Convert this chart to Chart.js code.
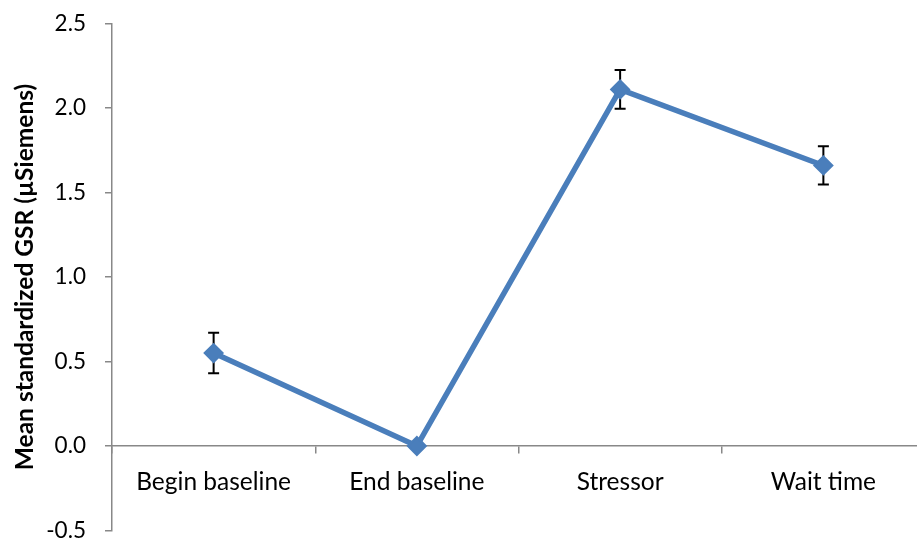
<!DOCTYPE html>
<html>
<head>
<meta charset="utf-8">
<script src="https://cdn.jsdelivr.net/npm/chart.js@4.4.1/dist/chart.umd.min.js"></script>
<style>
  html, body { margin: 0; padding: 0; background: #ffffff; overflow: hidden; }
  #wrap { position: absolute; left: 0; top: -8.8px; width: 936px; height: 572px; }
</style>
</head>
<body>
<div id="wrap"><canvas id="c"></canvas></div>
<script>
const categories = ['Begin baseline', 'End baseline', 'Stressor', 'Wait time'];
const meanGSR = [0.55, 0.0, 2.11, 1.66];
const errorGSR = [0.12, 0.0, 0.115, 0.113];
const yTickMin = -0.5;
const yTickMax = 2.5;
const yTickStep = 0.5;
const yAxisTitle = 'Mean standardized GSR (µSiemens)';

const axisGray = '#888888';
const seriesBlue = '#4a7ebb';

const errorBarPlugin = {
  id: 'errorBars',
  beforeDatasetsDraw(chart) {
    const ctx = chart.ctx;
    const xs = chart.scales.x;
    const ys = chart.scales.y;
    ctx.save();
    ctx.strokeStyle = '#000000';
    ctx.lineWidth = 2;
    const cap = 5.5;
    meanGSR.forEach((v, i) => {
      const e = errorGSR[i];
      if (!e) return;
      const x = xs.getPixelForValue(i);
      const yTop = ys.getPixelForValue(v + e);
      const yBot = ys.getPixelForValue(v - e);
      ctx.beginPath();
      ctx.moveTo(x, yTop); ctx.lineTo(x, yBot);
      ctx.moveTo(x - cap, yTop); ctx.lineTo(x + cap, yTop);
      ctx.moveTo(x - cap, yBot); ctx.lineTo(x + cap, yBot);
      ctx.stroke();
    });
    ctx.restore();
  }
};

new Chart(document.getElementById('c'), {
  type: 'line',
  data: {
    labels: categories,
    datasets: [{
      data: meanGSR,
      borderColor: seriesBlue,
      backgroundColor: seriesBlue,
      borderWidth: 5.5,
      pointStyle: 'rectRot',
      pointRadius: 9,
      pointBorderWidth: 2,
      pointBackgroundColor: seriesBlue,
      pointBorderColor: seriesBlue,
      tension: 0,
      fill: false,
      clip: false
    }]
  },
  options: {
    responsive: true,
    maintainAspectRatio: false,
    animation: false,
    events: [],
    layout: { padding: { left: 0, right: 0, top: 15, bottom: 5 } },
    plugins: {
      legend: { display: false },
      tooltip: { enabled: false }
    },
    scales: {
      x: {
        type: 'category',
        position: { y: 0 },
        offset: true,
        grid: {
          display: true,
          offset: true,
          drawOnChartArea: false,
          drawTicks: true,
          tickLength: 7,
          color: axisGray,
          lineWidth: 1.5
        },
        border: { display: true, color: axisGray, width: 1.5 },
        ticks: {
          color: '#000000',
          padding: 14,
          maxRotation: 0,
          autoSkip: false,
          font: { family: 'Lato', size: 24.5 }
        }
      },
      y: {
        min: yTickMin,
        max: yTickMax,
        afterFit(scale) { scale.width = 112; },
        grid: {
          display: true,
          drawOnChartArea: false,
          drawTicks: true,
          tickLength: 7,
          color: axisGray,
          lineWidth: 1.5
        },
        border: { display: true, color: axisGray, width: 1.5 },
        ticks: {
          stepSize: yTickStep,
          color: '#000000',
          padding: 19,
          font: { family: 'Lato', size: 22.5 },
          callback: (v) => Number(v).toFixed(1)
        },
        title: {
          display: true,
          text: yAxisTitle,
          color: '#000000',
          padding: { top: 10, bottom: 0 },
          font: { family: 'Lato', size: 24.5, weight: 'bold' }
        }
      }
    }
  },
  plugins: [errorBarPlugin]
});
</script>
</body>
</html>
